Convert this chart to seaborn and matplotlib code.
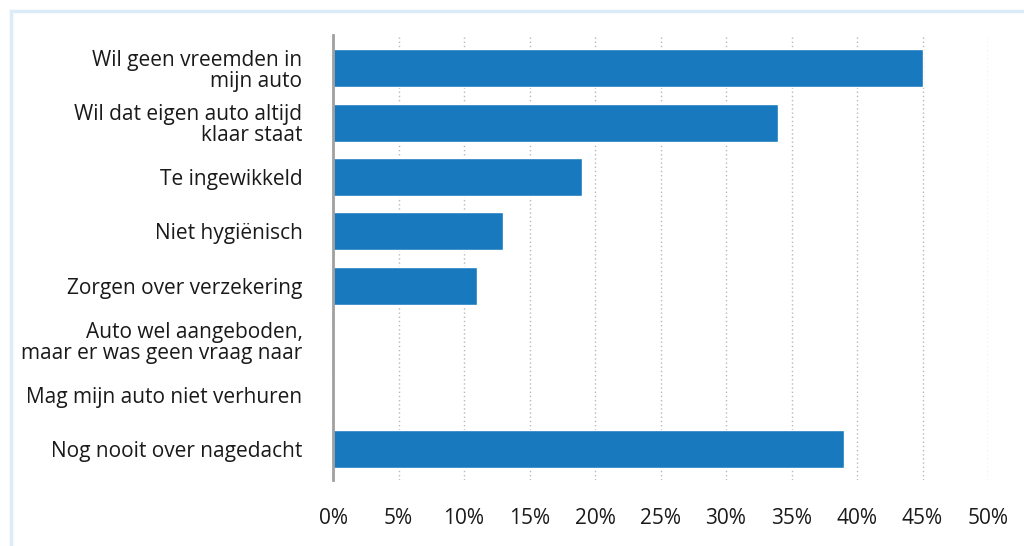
import matplotlib
matplotlib.use("Agg")
import matplotlib.pyplot as plt
import seaborn as sns
import pandas as pd
from matplotlib.patches import Rectangle
from matplotlib.ticker import FuncFormatter, MultipleLocator

# data
redenen = [
    "Wil geen vreemden in\nmijn auto",
    "Wil dat eigen auto altijd\nklaar staat",
    "Te ingewikkeld",
    "Niet hygiënisch",
    "Zorgen over verzekering",
    "Auto wel aangeboden,\nmaar er was geen vraag naar",
    "Mag mijn auto niet verhuren",
    "Nog nooit over nagedacht",
]
percentages = [45, 34, 19, 13, 11, 0, 0, 39]

df = pd.DataFrame({"reden": redenen, "pct": percentages})

sns.set_theme(style="white")
plt.rcParams["font.family"] = ["Open Sans", "DejaVu Sans"]

fig = plt.figure(figsize=(10.24, 5.46), dpi=100)
ax = fig.add_axes([333 / 1024, 1 - 480 / 546, (988 - 333) / 1024, 445 / 546])

sns.barplot(data=df, y="reden", x="pct", orient="h", color="#1879bf",
            saturation=1, width=0.70, ax=ax)

ax.set_xlim(0, 50)
ax.set_ylim(7.57, -0.61)
ax.xaxis.set_major_locator(MultipleLocator(5))
ax.xaxis.set_major_formatter(FuncFormatter(lambda v, p: f"{v:.0f}%"))
ax.grid(axis="x", color="#b8b8b8", linestyle=(0, (1, 2)), linewidth=1)
ax.set_axisbelow(True)
ax.set_xlabel("")
ax.set_ylabel("")

for s in ["top", "right", "bottom"]:
    ax.spines[s].set_visible(False)
ax.spines["left"].set_color("#a0a0a0")
ax.spines["left"].set_linewidth(2)

ax.tick_params(axis="y", length=0, pad=22, labelsize=15, labelcolor="#1a1a1a")
ax.tick_params(axis="x", length=0, pad=20, labelsize=15, labelcolor="#1a1a1a")
for t in ax.get_yticklabels():
    t.set_horizontalalignment("right")
    t.set_linespacing(1.0)

# light blue frame around the chart block
fig.patches.append(Rectangle((11 / 1024, -0.05), 1.2, 1 - 11 / 546 + 0.05,
                             transform=fig.transFigure, fill=False,
                             edgecolor="#dcebf8", linewidth=2.5))

fig.savefig("out.png", dpi=100)
